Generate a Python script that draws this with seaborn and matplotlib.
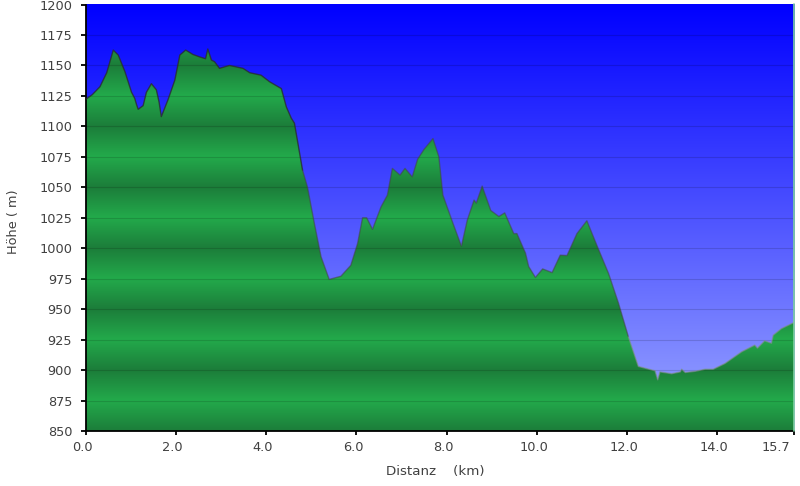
import matplotlib
matplotlib.use("Agg")
import matplotlib.pyplot as plt
from matplotlib.colors import LinearSegmentedColormap
from matplotlib.transforms import ScaledTranslation
import seaborn as sns
import numpy as np
import pandas as pd

# elevation profile
distance_km = [0.0, 0.15, 0.32, 0.47, 0.615, 0.725, 0.873, 1.02, 1.09, 1.13, 1.167, 1.277, 1.35, 1.46, 1.57, 1.63, 1.68,
               1.83, 1.98, 2.09, 2.22, 2.38, 2.53, 2.66, 2.71, 2.79, 2.86, 2.97, 3.19, 3.49, 3.64, 3.89, 4.08, 4.34,
               4.45, 4.56, 4.63, 4.81, 4.92, 5.07, 5.22, 5.40, 5.66, 5.88, 6.03, 6.14, 6.23, 6.36, 6.55, 6.69, 6.80,
               6.97, 7.08, 7.24, 7.36, 7.50, 7.70, 7.83, 7.92, 8.13, 8.33, 8.46, 8.61, 8.66, 8.79, 8.98, 9.16, 9.29,
               9.49, 9.56, 9.75, 9.82, 9.97, 10.13, 10.34, 10.52, 10.67, 10.89, 11.11, 11.33, 11.59, 11.81, 12.03,
               12.25, 12.62, 12.68, 12.73, 12.99, 13.18, 13.21, 13.29, 13.51, 13.73, 13.91, 14.17, 14.54, 14.83,
               14.89, 15.05, 15.2, 15.24, 15.42, 15.64, 15.7]
elevation_m = [1122, 1126, 1132.5, 1144, 1162.6, 1158.5, 1145, 1128, 1123, 1118, 1114, 1117, 1128, 1135, 1130, 1120, 1108,
               1122, 1138, 1158.5, 1162.6, 1159, 1157, 1155.5, 1163.5, 1154.4, 1153, 1147.6, 1150, 1147.6, 1144, 1142,
               1136.6, 1131, 1116, 1106.7, 1102.6, 1064, 1050, 1020.6, 993, 974.4, 977, 986, 1004, 1025, 1025, 1015.5,
               1034, 1043.6, 1065.5, 1060, 1065.5, 1058.6, 1073, 1081, 1090, 1075, 1043.6, 1021.7, 1001.7, 1023, 1039.5,
               1037, 1051, 1031, 1026, 1029, 1012, 1012, 996, 985, 976, 983, 980, 994.3, 994, 1012, 1022.5, 1002.5,
               979.3, 955, 927.3, 903, 899.4, 892, 898.5, 897, 898.5, 900.7, 898, 899, 900.7, 900.7, 905.4, 915, 920.5,
               918, 924, 922, 928.6, 934, 938, 939]
x_ticks = [0.0, 2.0, 4.0, 6.0, 8.0, 10.0, 12.0, 14.0, 15.7]
y_ticks = list(range(850, 1201, 25))

df = pd.DataFrame({"dist": distance_km, "ele": elevation_m})

sns.set_theme(style="white")
plt.rcParams["font.family"] = ["DejaVu Sans"]

fig = plt.figure(figsize=(8, 4.86), dpi=100)
ax = fig.add_axes([85.5 / 800, 1 - 431 / 486, (794 - 85.5) / 800, (431 - 4.5) / 486])
ax.set_xlim(0, 15.7)
ax.set_ylim(850, 1200)

# sky gradient
sky = LinearSegmentedColormap.from_list("sky", ["#0000ff", "#9ca8ff"])
ax.imshow(np.linspace(0, 1, 256).reshape(-1, 1), aspect="auto", cmap=sky,
          extent=[0, 15.7, 850, 1200], origin="upper", zorder=0)

# green bands, dark on every 50 m and bright halfway between
green = LinearSegmentedColormap.from_list("green", ["#1c7d3a", "#23aa4b", "#1c7d3a"])
phase = (np.linspace(850, 1200, 1400) % 50) / 50
bands = ax.imshow(phase.reshape(-1, 1), aspect="auto", cmap=green, vmin=0, vmax=1,
                  extent=[0, 15.7, 850, 1200], origin="lower", zorder=1)
clip = ax.fill_between(df["dist"], df["ele"], 850, color="none", zorder=1)
bands.set_clip_path(clip.get_paths()[0], transform=ax.transData)

# outline fades from dark to grey going right
sns.lineplot(data=df[df["dist"] <= 4.81], x="dist", y="ele", ax=ax, color="#2a2a2a", alpha=0.75, linewidth=1.0, zorder=3)
sns.lineplot(data=df[(df["dist"] >= 4.81) & (df["dist"] <= 12.03)], x="dist", y="ele", ax=ax,
             color="#444444", alpha=0.55, linewidth=1.0, zorder=3)
sns.lineplot(data=df[df["dist"] >= 12.03], x="dist", y="ele", ax=ax, color="#7f8f88", alpha=0.6, linewidth=1.0, zorder=3)

for v in y_ticks[1:-1]:
    ax.axhline(v, color="black", alpha=0.14, linewidth=0.8, zorder=2)
ax.axvline(15.7, color="#7fcfa0", linewidth=1.2, zorder=4, clip_on=False)

ax.set_xticks(x_ticks)
ax.set_xticklabels([f"{t:.1f}" for t in x_ticks])
ax.set_yticks(y_ticks)
ax.tick_params(axis="x", direction="out", length=3, width=1.3, color="black",
               labelsize=9.3, labelcolor="#404040", pad=4.5, bottom=True)
ax.tick_params(axis="y", direction="out", length=3.6, width=1.3, color="black",
               labelsize=9.3, labelcolor="#404040", pad=6, left=True)

# tick labels sit a little left of their ticks, the last one more so
labels = ax.get_xticklabels()
for lab in labels[:-1]:
    lab.set_transform(lab.get_transform() + ScaledTranslation(-3 / 100, 0, fig.dpi_scale_trans))
labels[-1].set_transform(labels[-1].get_transform() + ScaledTranslation(-18 / 100, 0, fig.dpi_scale_trans))

ax.set_xlabel("Distanz    (km)", fontsize=9.6, color="#404040")
ax.xaxis.set_label_coords((435 - 85.5) / 708.5, -(465 - 431) / 426.5)
ax.set_ylabel("Höhe ( m)", fontsize=9.3, color="#404040")
ax.yaxis.set_label_coords(-(85.5 - 20) / 708.5, 0.49)

sns.despine(ax=ax)
ax.spines["left"].set_color("black")
ax.spines["left"].set_linewidth(1.3)
ax.spines["bottom"].set_color("black")
ax.spines["bottom"].set_linewidth(1.3)

fig.savefig("out.png", dpi=100)
